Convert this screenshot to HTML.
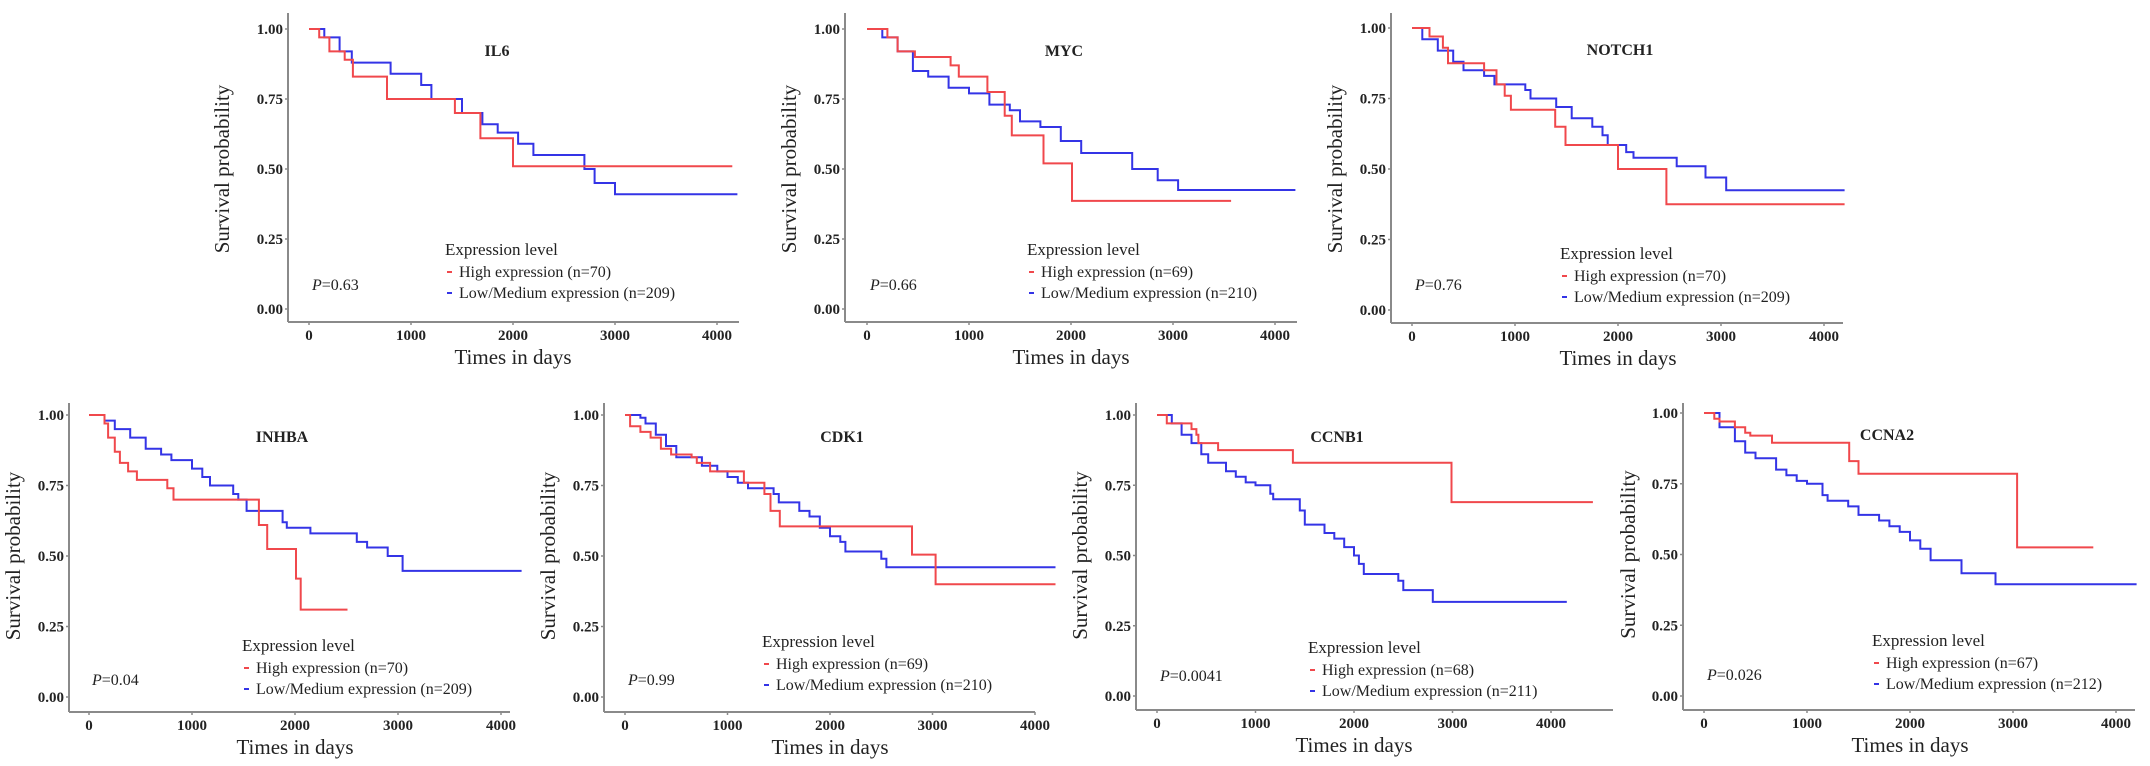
<!DOCTYPE html>
<html><head><meta charset="utf-8">
<style>
html,body{margin:0;padding:0;background:#fff;}
svg{display:block;font-family:"Liberation Serif",serif;}
</style></head>
<body>
<svg id="fig" width="2150" height="766" viewBox="0 0 2150 766" xmlns="http://www.w3.org/2000/svg"></svg>
<script>
const yTicks = [0, 0.25, 0.5, 0.75, 1];
const yTickLabels = ["0.00","0.25","0.50","0.75","1.00"];
const xTicks = [0, 1000, 2000, 3000, 4000];
const xTickLabels = ["0","1000","2000","3000","4000"];

const genes = ["IL6","MYC","NOTCH1","INHBA","CDK1","CCNB1","CCNA2"];
const pValues = ["0.63","0.66","0.76","0.04","0.99","0.0041","0.026"];
const highN = [70,69,70,70,69,68,67];
const lowN = [209,210,209,209,210,211,212];

const il6HighT = [0,100,200,350,430,765,1430,1680,2000,4150];
const il6HighS = [1,0.97,0.92,0.89,0.83,0.75,0.70,0.61,0.51,0.51];
const il6LowT = [0,150,300,420,800,1100,1200,1450,1500,1700,1850,2050,2200,2700,2800,3000,4200];
const il6LowS = [1,0.97,0.92,0.88,0.84,0.80,0.75,0.75,0.70,0.66,0.63,0.59,0.55,0.50,0.45,0.41,0.41];

const mycHighT = [0,200,300,470,820,900,1180,1350,1420,1730,2010,3570];
const mycHighS = [1,0.97,0.92,0.90,0.87,0.83,0.775,0.69,0.62,0.52,0.386,0.386];
const mycLowT = [0,150,300,450,600,800,1000,1200,1400,1500,1700,1900,2100,2600,2850,3050,4200];
const mycLowS = [1,0.97,0.92,0.85,0.83,0.79,0.77,0.73,0.71,0.67,0.65,0.60,0.557,0.50,0.46,0.425,0.425];

const notchHighT = [0,170,300,350,700,820,900,960,1390,1490,2000,2470,4200];
const notchHighS = [1,0.97,0.93,0.875,0.85,0.80,0.76,0.71,0.65,0.585,0.50,0.375,0.375];
const notchLowT = [0,100,250,400,500,700,800,1100,1150,1400,1550,1750,1850,1900,2080,2150,2570,2850,3050,4200];
const notchLowS = [1,0.96,0.92,0.88,0.85,0.83,0.80,0.78,0.75,0.72,0.68,0.65,0.62,0.585,0.56,0.54,0.51,0.47,0.425,0.425];

const inhbaHighT = [0,150,185,250,300,380,465,760,820,1650,1730,2010,2055,2510];
const inhbaHighS = [1,0.97,0.92,0.87,0.83,0.80,0.77,0.74,0.70,0.61,0.525,0.42,0.31,0.31];
const inhbaLowT = [0,150,250,400,550,700,800,1000,1100,1175,1400,1450,1530,1880,1920,2150,2600,2700,2900,3045,4200];
const inhbaLowS = [1,0.98,0.95,0.92,0.88,0.86,0.84,0.81,0.78,0.75,0.72,0.70,0.66,0.62,0.60,0.58,0.55,0.53,0.50,0.447,0.447];

const cdkHighT = [0,50,150,250,350,450,650,700,830,1160,1360,1420,1510,2800,3030,4200];
const cdkHighS = [1,0.96,0.94,0.92,0.88,0.86,0.85,0.83,0.80,0.76,0.72,0.66,0.605,0.505,0.40,0.40];
const cdkLowT = [0,150,200,300,400,500,750,900,1000,1100,1200,1450,1500,1700,1800,1900,2000,2100,2150,2500,2550,4200];
const cdkLowS = [1,0.99,0.97,0.93,0.89,0.85,0.82,0.80,0.78,0.76,0.74,0.72,0.69,0.66,0.64,0.60,0.57,0.55,0.516,0.49,0.46,0.46];

const ccnb1HighT = [0,100,350,400,420,620,1380,2990,4425];
const ccnb1HighS = [1,0.97,0.95,0.93,0.90,0.875,0.83,0.69,0.69];
const ccnb1LowT = [0,150,250,350,450,520,700,800,900,1000,1150,1180,1450,1500,1700,1800,1900,2000,2050,2100,2450,2500,2800,4160];
const ccnb1LowS = [1,0.97,0.93,0.90,0.86,0.83,0.80,0.78,0.76,0.75,0.72,0.70,0.66,0.61,0.58,0.56,0.53,0.50,0.47,0.434,0.41,0.377,0.335,0.335];

const ccna2HighT = [0,100,150,300,400,450,660,1410,1500,3040,3780];
const ccna2HighS = [1,0.98,0.97,0.95,0.93,0.92,0.895,0.83,0.785,0.525,0.525];
const ccna2LowT = [0,150,300,400,500,700,800,900,1000,1150,1200,1400,1500,1700,1800,1900,2000,2100,2200,2500,2830,4200];
const ccna2LowS = [1,0.95,0.90,0.86,0.84,0.80,0.78,0.76,0.75,0.71,0.69,0.67,0.64,0.62,0.60,0.58,0.55,0.52,0.48,0.434,0.395,0.395];

const highTimes = [il6HighT,mycHighT,notchHighT,inhbaHighT,cdkHighT,ccnb1HighT,ccna2HighT];
const highSurv = [il6HighS,mycHighS,notchHighS,inhbaHighS,cdkHighS,ccnb1HighS,ccna2HighS];
const lowTimes = [il6LowT,mycLowT,notchLowT,inhbaLowT,cdkLowT,ccnb1LowT,ccna2LowT];
const lowSurv = [il6LowS,mycLowS,notchLowS,inhbaLowS,cdkLowS,ccnb1LowS,ccna2LowS];

// layout (pixels)
const layout = [
 {ax:288,x0:309,ppd:0.102,y1:29,y0:309,xAxisY:322,top:13,xEnd:739,titleDx:188,legDx:136,legY:250,pY:285,ylabDx:-66},
 {ax:845,x0:867,ppd:0.102,y1:29,y0:309,xAxisY:322,top:13,xEnd:1297,titleDx:197,legDx:160,legY:250,pY:285,ylabDx:-56},
 {ax:1391,x0:1412,ppd:0.103,y1:28,y0:310,xAxisY:323,top:13,xEnd:1843,titleDx:208,legDx:148,legY:254,pY:285,ylabDx:-56},
 {ax:69,x0:89,ppd:0.103,y1:415,y0:697,xAxisY:712,top:403,xEnd:510,titleDx:193,legDx:153,legY:646,pY:680,ylabDx:-56},
 {ax:604,x0:625,ppd:0.1025,y1:415,y0:697,xAxisY:712,top:403,xEnd:1035,titleDx:217,legDx:137,legY:642,pY:680,ylabDx:-56},
 {ax:1136,x0:1157,ppd:0.0985,y1:415,y0:696,xAxisY:710,top:403,xEnd:1613,titleDx:180,legDx:151,legY:648,pY:676,ylabDx:-56},
 {ax:1683,x0:1704,ppd:0.103,y1:413,y0:696,xAxisY:710,top:403,xEnd:2135,titleDx:183,legDx:168,legY:641,pY:675,ylabDx:-55}
];
const RED = "#f0484c", BLUE = "#3434e6", AXIS = "#8a8a8a", TXT = "#222";
const NS = "http://www.w3.org/2000/svg";
const svg = document.getElementById("fig");
function mk(tag, attrs, parent, text){
  const e = document.createElementNS(NS, tag);
  for (const k in attrs) e.setAttribute(k, attrs[k]);
  if (text !== undefined) e.textContent = text;
  parent.appendChild(e);
  return e;
}
function stepPath(ts, ss, xs, ys){
  let d = "M" + xs(ts[0]).toFixed(1) + "," + ys(ss[0]).toFixed(1);
  for (let i = 1; i < ts.length; i++){
    d += " H" + xs(ts[i]).toFixed(1) + " V" + ys(ss[i]).toFixed(1);
  }
  return d;
}
genes.forEach((g, i) => {
  const L = layout[i];
  const xs = t => L.x0 + t * L.ppd;
  const ys = s => L.y0 - s * (L.y0 - L.y1);
  const grp = mk("g", {}, svg);
  
  
  const yAx = mk("line", {x1:L.ax, y1:L.top, x2:L.ax, y2:L.xAxisY, stroke:AXIS, "stroke-width":2}, grp);
  
  
  const xAx = mk("line", {x1:L.ax, y1:L.xAxisY, x2:L.xEnd, y2:L.xAxisY, stroke:AXIS, "stroke-width":2}, grp);
  
  
  yTicks.forEach((v, k) => {
    const yy = ys(v);
    const tk = mk("line", {x1:L.ax-3, y1:yy, x2:L.ax, y2:yy, stroke:AXIS, "stroke-width":1.5}, grp);
    
    
    const tl = mk("text", {x:L.ax-5, y:yy+5, "text-anchor":"end", "font-size":15, "font-weight":"bold", fill:TXT}, grp, yTickLabels[k]);
    
    
  });
  xTicks.forEach((v, k) => {
    const xx = xs(v);
    const tk = mk("line", {x1:xx, y1:L.xAxisY, x2:xx, y2:L.xAxisY+3, stroke:AXIS, "stroke-width":1.5}, grp);
    
    
    const tl = mk("text", {x:xx, y:L.xAxisY+18, "text-anchor":"middle", "font-size":15, "font-weight":"bold", fill:TXT}, grp, xTickLabels[k]);
    
    
  });
  const xt = mk("text", {x:L.x0 + 2000*L.ppd, y:L.xAxisY+42, "text-anchor":"middle", "font-size":21, fill:TXT}, grp, "Times in days");
  
  
  const ymid = (L.y0 + L.y1) / 2;
  const yt = mk("text", {x:0, y:0, transform:"translate(" + (L.ax + L.ylabDx + 7) + "," + ymid + ") rotate(-90)", "text-anchor":"middle", "font-size":21, fill:TXT}, grp, "Survival probability");
  
  
  const ti = mk("text", {x:L.x0 + L.titleDx, y:ys(1)+27, "text-anchor":"middle", "font-size":16, "font-weight":"bold", fill:TXT}, grp, g);
  
  
  const lowPath = mk("path", {d:stepPath(lowTimes[i], lowSurv[i], xs, ys), fill:"none", stroke:BLUE, "stroke-width":2}, grp);
  
  
  const highPath = mk("path", {d:stepPath(highTimes[i], highSurv[i], xs, ys), fill:"none", stroke:RED, "stroke-width":2}, grp);
  
  
  const pt = mk("text", {x:L.x0 + 3, y:L.pY + 5, "font-size":16, fill:TXT}, grp);
  
  
  mk("tspan", {"font-style":"italic"}, pt, "P");
  mk("tspan", {}, pt, "=" + pValues[i]);
  const lx = L.x0 + L.legDx;
  const lg = mk("g", {}, grp);
  
  
  const lt = mk("text", {x:lx, y:L.legY + 5, "font-size":17, fill:TXT}, lg, "Expression level");
  
  
  const rows = [[RED, "High expression (n=" + highN[i] + ")"], [BLUE, "Low/Medium expression (n=" + lowN[i] + ")"]];
  rows.forEach((r, k) => {
    const ry = L.legY + 22 + k * 21;
    const sw = mk("line", {x1:lx+2, y1:ry, x2:lx+7, y2:ry, stroke:r[0], "stroke-width":2}, lg);
    
    
    const rt = mk("text", {x:lx+14, y:ry+5, "font-size":16, fill:TXT}, lg, r[1]);
    
    
  });
});
</script>
</body></html>
